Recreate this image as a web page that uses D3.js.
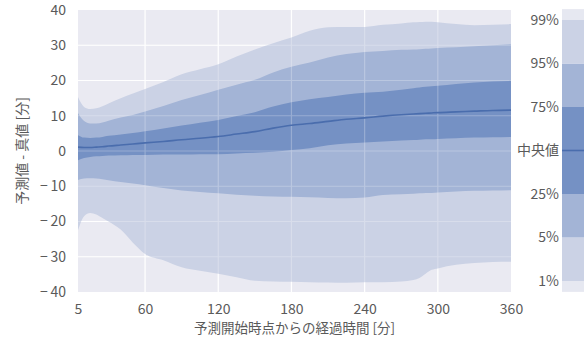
<!DOCTYPE html>
<html>
<head>
<meta charset="utf-8">
<script src="https://cdn.jsdelivr.net/npm/d3@7"></script>
<style>
  body { margin: 0; background: #fff; }
  svg text { font-family: "Noto Sans CJK JP", "Noto Sans", sans-serif; fill: #5a5a5a; }
</style>
</head>
<body>
<svg id="svg1" width="584" height="345"></svg>
<script>
// elapsed time since forecast start [min]
var minutes = [5, 10, 15, 20, 25, 30, 40, 50, 60, 75, 90, 105, 120, 135, 150, 165, 180, 195, 210, 225, 240, 255, 270, 280, 285, 290, 295, 300, 315, 330, 345, 360];

// quantiles of (forecast - actual) [min]
var p99 = [15.3, 12.5, 11.9, 12.1, 12.7, 13.5, 15.0, 16.3, 17.6, 19.6, 21.8, 23.2, 24.6, 26.8, 28.8, 30.6, 32.2, 34.1, 35.1, 35.2, 35.2, 35.8, 36.2, 36.5, 36.6, 36.7, 36.7, 36.5, 36.0, 35.7, 35.8, 36.0];
var p95 = [10.8, 8.5, 7.8, 7.8, 8.1, 8.6, 9.5, 10.2, 11.2, 12.8, 14.5, 15.9, 17.4, 18.8, 20.2, 22.3, 23.9, 25.1, 26.5, 27.5, 28.1, 28.4, 28.7, 28.8, 28.9, 29.0, 29.1, 29.2, 29.4, 29.7, 30.0, 30.3];
var p75 = [4.5, 3.8, 3.7, 3.8, 4.0, 4.3, 4.7, 5.1, 5.6, 6.4, 7.2, 8.0, 8.8, 9.9, 11.0, 12.6, 13.8, 14.7, 15.3, 16.0, 16.5, 16.8, 17.4, 17.8, 18.0, 18.2, 18.4, 18.5, 19.0, 19.4, 19.7, 19.9];
var p50 = [1.1, 1.0, 1.0, 1.1, 1.2, 1.4, 1.7, 2.0, 2.3, 2.7, 3.2, 3.6, 4.1, 4.8, 5.5, 6.5, 7.3, 7.8, 8.4, 9.0, 9.4, 9.9, 10.3, 10.5, 10.6, 10.7, 10.8, 10.9, 11.1, 11.3, 11.5, 11.6];
var p25 = [-2.6, -2.0, -1.7, -1.5, -1.4, -1.3, -1.2, -1.1, -1.1, -1.0, -1.0, -0.9, -0.9, -0.7, -0.5, -0.2, 0.3, 0.8, 1.6, 2.1, 2.4, 2.7, 3.0, 3.1, 3.2, 3.3, 3.3, 3.4, 3.6, 3.8, 3.9, 4.0];
var p5 = [-8.2, -7.8, -7.7, -7.8, -8.0, -8.3, -8.8, -9.2, -9.7, -10.5, -11.2, -11.6, -12.0, -12.4, -12.7, -12.9, -13.0, -13.1, -13.3, -13.4, -13.2, -12.5, -12.3, -12.1, -12.0, -11.9, -11.9, -11.8, -11.5, -11.3, -11.2, -11.1];
var p1 = [-22.5, -18.5, -17.6, -18.0, -19.0, -20.0, -22.3, -26.0, -29.2, -31.0, -33.0, -34.0, -34.8, -35.8, -36.8, -37.0, -37.1, -37.2, -37.3, -37.4, -37.2, -37.2, -37.0, -36.6, -36.0, -34.8, -33.7, -33.3, -32.3, -31.8, -31.5, -31.4];

var xTicks = [5, 60, 120, 180, 240, 300, 360];
var yTicks = [-40, -30, -20, -10, 0, 10, 20, 30, 40];
var levelLabels = ["1%", "5%", "25%", "中央値", "75%", "95%", "99%"];

var svg = d3.select("#svg1");

var mLeft = 78, mRight = 511, mTop = 10, mBottom = 292;

var x = d3.scaleLinear().domain([5, 360]).range([mLeft, mRight]);
var y = d3.scaleLinear().domain([-40, 40]).range([mBottom, mTop]);

var bg = "#EAEAF2";
var cLight = "#CBD2E5", cMid = "#A3B4D6", cDark = "#7591C4", cLine = "#4A6DAD";

svg.append("rect")
    .attr("x", mLeft).attr("y", mTop)
    .attr("width", mRight - mLeft).attr("height", mBottom - mTop)
    .attr("fill", bg);

function drawGrid(opacity) {
  var g = svg.append("g").attr("opacity", opacity);
  g.selectAll(".vg")
      .data(xTicks.slice(1, -1))
      .enter().append("line")
      .attr("x1", function(d) { return x(d); }).attr("x2", function(d) { return x(d); })
      .attr("y1", mTop).attr("y2", mBottom)
      .attr("stroke", "#fff").attr("stroke-width", 1.2);
  g.selectAll(".hg")
      .data(yTicks.slice(1, -1))
      .enter().append("line")
      .attr("y1", function(d) { return y(d); }).attr("y2", function(d) { return y(d); })
      .attr("x1", mLeft).attr("x2", mRight)
      .attr("stroke", "#fff").attr("stroke-width", 1.2);
}

drawGrid(1);

function band(lo, hi, color) {
  var area = d3.area()
      .x(function(d, i) { return x(minutes[i]); })
      .y0(function(d, i) { return y(lo[i]); })
      .y1(function(d, i) { return y(hi[i]); })
      .curve(d3.curveMonotoneX);
  svg.append("path")
      .datum(minutes)
      .attr("d", area)
      .attr("fill", color);
}

band(p1, p99, cLight);
band(p5, p95, cMid);
band(p25, p75, cDark);

drawGrid(0.25);

var line = d3.line()
    .x(function(d, i) { return x(minutes[i]); })
    .y(function(d) { return y(d); })
    .curve(d3.curveMonotoneX);

svg.append("path")
    .datum(p50)
    .attr("d", line)
    .attr("fill", "none")
    .attr("stroke", cLine)
    .attr("stroke-width", 1.6);

// axes
svg.append("g")
    .attr("transform", "translate(0," + mBottom + ")")
    .call(d3.axisBottom(x).tickValues(xTicks).tickSize(0).tickPadding(12));
svg.append("g")
    .attr("transform", "translate(" + mLeft + ",0)")
    .call(d3.axisLeft(y).tickValues(yTicks).tickSize(0).tickPadding(12)
      .tickFormat(function(d) { return d < 0 ? "\u2212\u2009" + Math.abs(d) : d; }));

svg.selectAll(".domain").remove();
svg.selectAll(".tick text").attr("font-size", 14).style("font-family", "'Noto Sans CJK JP', 'Noto Sans', sans-serif").style("fill", "#5a5a5a");

svg.append("text")
    .attr("x", (mLeft + mRight) / 2).attr("y", 333)
    .attr("text-anchor", "middle")
    .attr("font-size", 13.5)
    .text("予測開始時点からの経過時間 [分]");

svg.append("text")
    .attr("transform", "translate(27," + ((mTop + mBottom) / 2) + ") rotate(-90)")
    .attr("text-anchor", "middle")
    .attr("font-size", 14)
    .text("予測値 - 真値 [分]");

// colorbar
var cbX = 562, cbW = 30;
var cb = d3.scaleLinear().domain([0, 6]).range([281, 20]);
var segs = [
  { a: -0.25, b: 0, c: "#E6E8F1" },
  { a: 0, b: 1, c: cLight },
  { a: 1, b: 2, c: cMid },
  { a: 2, b: 3, c: cDark },
  { a: 3, b: 4, c: cDark },
  { a: 4, b: 5, c: cMid },
  { a: 5, b: 6, c: cLight },
  { a: 6, b: 6.25, c: "#E6E8F1" }
];

svg.selectAll(".seg")
    .data(segs)
    .enter().append("rect")
    .attr("x", cbX).attr("width", cbW)
    .attr("y", function(d) { return cb(d.b); })
    .attr("height", function(d) { return cb(d.a) - cb(d.b); })
    .attr("fill", function(d) { return d.c; });

svg.append("line")
    .attr("x1", cbX).attr("x2", cbX + cbW)
    .attr("y1", cb(3)).attr("y2", cb(3))
    .attr("stroke", cLine).attr("stroke-width", 1.6);

svg.selectAll(".cbl")
    .data(levelLabels)
    .enter().append("text")
    .attr("x", cbX - 3)
    .attr("y", function(d, i) { return cb(i); })
    .attr("dy", "0.35em")
    .attr("text-anchor", "end")
    .attr("font-size", 14)
    .text(function(d) { return d; });
</script>
</body>
</html>
